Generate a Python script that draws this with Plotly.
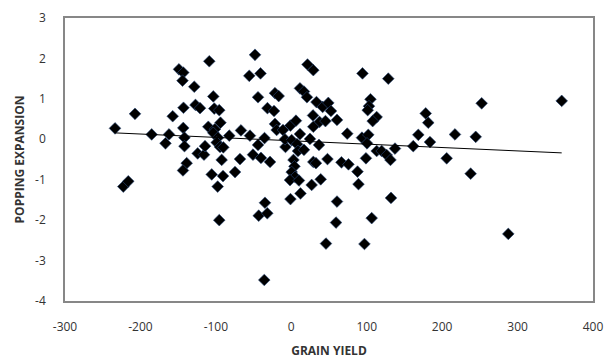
import numpy as np
import plotly.graph_objects as go

grain_yield = [
    -233.7, -207.2, -222.7, -216.1, -185.1, -162.1, -166.8, -157.2, -148.9, -143.2,
    -144.2, -128.6, -142.9, -127.0, -121.0, -143.2, -141.6, -141.6, -124.1, -115.7,
    -138.7, -143.6, -108.7, -103.4, -102.1, -95.5, -110.0, -101.2, -93.9, -103.4,
    -97.2, -82.2, -114.4, -98.9, -94.5, -90.1, -92.3, -105.5, -90.5, -74.6,
    -97.6, -95.5, -66.7, -54.8, -68.0, -48.1, -55.7, -40.8, -44.1, -31.6,
    -22.9, -21.6, -19.4, -35.5, -44.1, -50.8, -40.2, -28.2, -34.9, -43.2,
    -31.8, -35.8, -21.6, -16.7, -7.7, -11.0, -1.1, 6.2, -8.4, 0.5,
    7.6, 8.9, 11.5, 16.8, 2.9, 4.2, 0.5, 4.9, -1.7, 10.2,
    -1.1, 12.2, 11.5, 16.8, 21.5, 29.2, 20.8, 33.4, 41.6, 49.1,
    52.6, 28.8, 37.4, 45.3, 60.6, 29.2, 24.8, 36.7, 29.2, 32.7,
    48.0, 27.0, 39.0, 66.5, 75.8, 74.2, 60.6, 59.3, 46.0, 94.4,
    128.6, 105.0, 103.0, 101.3, 113.2, 107.9, 93.7, 102.1, 100.4, 113.2,
    119.8, 126.5, 131.5, 137.5, 87.8, 89.1, 99.0, 106.6, 97.0, 132.2,
    178.2, 181.6, 168.4, 183.9, 217.0, 244.5, 161.7, 206.0, 237.8, 252.4,
    358.5, 287.7,
]
popping_expansion = [
    0.27, 0.63, -1.17, -1.04, 0.12, 0.12, -0.10, 0.57, 1.73, 1.65,
    1.45, 1.30, 0.78, 0.85, 0.77, 0.28, 0.04, -0.17, -0.35, -0.38,
    -0.59, -0.77, 1.93, 1.06, 0.76, 0.72, 0.31, 0.25, 0.41, 0.16,
    0.04, 0.09, -0.17, -0.08, -0.19, -0.20, -0.51, -0.87, -0.91, -0.81,
    -1.17, -2.00, 0.22, 0.09, -0.49, 2.09, 1.57, 1.63, 1.04, 0.77,
    0.70, 0.38, 0.23, 0.03, -0.14, -0.38, -0.46, -0.56, -1.57, -1.89,
    -1.83, -3.48, 1.14, 1.07, -0.19, 0.23, 0.34, 0.46, 0.00, -0.02,
    -0.12, -0.29, 0.13, -0.26, -0.51, -0.67, -0.81, -0.93, -1.01, -1.02,
    -1.48, -1.34, 1.26, 1.18, 1.85, 1.71, 1.04, 0.92, 0.80, 0.90,
    0.70, 0.59, 0.43, 0.45, 0.48, 0.31, 0.01, -0.14, -0.56, -0.59,
    -0.49, -1.13, -0.99, -0.57, -0.62, 0.14, -1.54, -2.06, -2.58, 1.63,
    1.50, 0.99, 0.82, 0.72, 0.55, 0.45, 0.04, 0.11, -0.10, -0.29,
    -0.29, -0.39, -0.51, -0.23, -0.80, -1.11, -0.47, -1.95, -2.59, -1.45,
    0.64, 0.41, 0.11, -0.07, 0.12, 0.06, -0.17, -0.47, -0.85, 0.89,
    0.95, -2.34,
]

x_tick_values = [-300, -200, -100, 0, 100, 200, 300, 400]
x_tick_labels = ["-300", "-200", "-100", "0", "100", "200", "300", "400"]
y_tick_values = [-4, -3, -2, -1, 0, 1, 2, 3]
y_tick_labels = ["-4", "-3", "-2", "-1", "0", "1", "2", "3"]

x = np.array(grain_yield)
y = np.array(popping_expansion)
slope, intercept = np.polyfit(x, y, 1)
xt = np.array([x.min(), x.max()])
yt = slope * xt + intercept

fig = go.Figure()
fig.add_trace(go.Scatter(
    x=grain_yield, y=popping_expansion, mode="markers",
    marker=dict(symbol="diamond", size=9, color="black",
                line=dict(width=0.6, color="#2a4a7a")),
    showlegend=False, hoverinfo="skip",
))
fig.add_trace(go.Scatter(
    x=xt, y=yt, mode="lines", line=dict(color="black", width=1),
    showlegend=False, hoverinfo="skip",
))

font_family = "'Open Sans', Lato, sans-serif"
fig.update_layout(
    width=608, height=359,
    margin=dict(l=65, r=15, t=18, b=58),
    paper_bgcolor="white", plot_bgcolor="white",
    font=dict(family=font_family, color="#333333", size=12),
    xaxis=dict(
        range=[-300, 400], tickvals=x_tick_values, ticktext=x_tick_labels,
        showgrid=False, zeroline=False, showline=True, mirror=True,
        linecolor="#878787", linewidth=1.5, automargin=False,
        ticks="outside", ticklen=14, tickcolor="rgba(0,0,0,0)",
        tickfont=dict(size=12, color="#333333"),
        title=dict(text="<b>GRAIN YIELD</b>", font=dict(size=12, color="#333333"), standoff=12),
    ),
    yaxis=dict(
        range=[-4, 3], tickvals=y_tick_values, ticktext=y_tick_labels,
        showgrid=False, zeroline=False, showline=True, mirror=True,
        linecolor="#878787", linewidth=1.5, automargin=False,
        ticks="outside", ticklen=15, tickcolor="rgba(0,0,0,0)",
        tickfont=dict(size=12, color="#333333"),
        title=dict(text="<b>POPPING EXPANSION</b>", font=dict(size=12, color="#333333"), standoff=8),
    ),
)
fig.write_html(
    "out.html",
    config={"displayModeBar": False},
    post_script="document.body.style.margin='0';document.body.style.overflow='hidden';",
)
